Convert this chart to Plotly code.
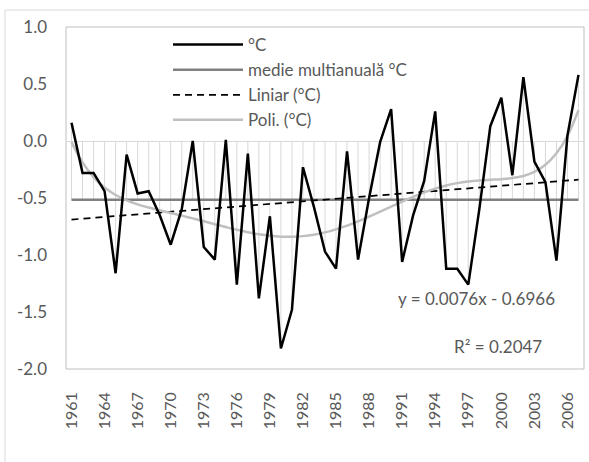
import numpy as np
import plotly.graph_objects as go

years = list(range(1961, 2008))
temp = [0.16, -0.28, -0.28, -0.44, -1.16, -0.12, -0.46, -0.44, -0.65, -0.91,
        -0.60, 0.00, -0.93, -1.04, 0.01, -1.26, -0.11, -1.38, -0.66, -1.82,
        -1.48, -0.23, -0.58, -0.97, -1.12, -0.09, -1.04, -0.50, -0.01, 0.28,
        -1.06, -0.65, -0.35, 0.26, -1.12, -1.12, -1.26, -0.60, 0.13, 0.38,
        -0.30, 0.56, -0.18, -0.36, -1.05, 0.05, 0.58]
lin_slope = 0.0076
lin_intercept = -0.6966
poly_order = 6
eq_text = "y = 0.0076x - 0.6966"
r2_text = "R² = 0.2047"
x_tick_years = list(range(1961, 2008, 3))
y_tick_vals = [1.0, 0.5, 0.0, -0.5, -1.0, -1.5, -2.0]
y_tick_text = ["1.0", "0.5", "0.0", "-0.5", "-1.0", "-1.5", "-2.0"]

FONT = "Lato"
TXT = "#595959"

t = np.array(temp)
n = np.arange(1, len(years) + 1)
mean_val = float(t.mean())
mean_series = [mean_val] * len(years)
lin_series = lin_slope * n + lin_intercept
coef = np.polyfit(n, t, poly_order)
poly_series = np.polyval(coef, n)

# drop lines from both series to the horizontal axis (at 0)
dx, dy = [], []
for yr, v in zip(years, temp):
    lo = min(0.0, v, mean_val)
    hi = max(0.0, v, mean_val)
    dx += [yr, yr, None]
    dy += [lo, hi, None]

fig = go.Figure()
fig.add_trace(go.Scatter(x=dx, y=dy, mode="lines", line=dict(color="#d9d9d9", width=1),
                         showlegend=False, hoverinfo="skip"))
fig.add_trace(go.Scatter(x=years, y=mean_series, mode="lines", name="medie multianuală °C",
                         line=dict(color="#808080", width=2.5), legendrank=2))
fig.add_trace(go.Scatter(x=years, y=lin_series, mode="lines", name="Liniar (°C)",
                         line=dict(color="#000000", width=1.75, dash="7px,5px"), legendrank=3))
fig.add_trace(go.Scatter(x=years, y=poly_series, mode="lines", name="Poli. (°C)",
                         line=dict(color="#bfbfbf", width=2.5, shape="spline"), legendrank=4))
fig.add_trace(go.Scatter(x=years, y=temp, mode="lines", name="°C",
                         line=dict(color="#000000", width=2.5), legendrank=1))

L, R, T, B = 66, 5, 27, 93
W, H = 589, 462
pw, ph = W - L - R, H - T - B

def px(xp):
    return (xp - L) / pw

def py(yp):
    return (H - B - yp) / ph

fig.update_layout(
    width=W, height=H,
    margin=dict(l=L, r=R, t=T, b=B, autoexpand=False),
    paper_bgcolor="white", plot_bgcolor="white",
    font=dict(family=FONT, size=17, color=TXT),
    showlegend=True,
    legend=dict(x=px(168), y=py(27), xanchor="left", yanchor="top",
                bgcolor="rgba(0,0,0,0)", font=dict(size=17, color=TXT),
                itemwidth=70, traceorder="normal"),
    xaxis=dict(range=[1960.5, 2007.5], tickmode="array", tickvals=x_tick_years,
               ticktext=[str(y) for y in x_tick_years], tickangle=-90,
               showgrid=False, zeroline=False, showline=False, ticks="",
               ticklabelstandoff=19, tickfont=dict(size=16, color=TXT)),
    yaxis=dict(range=[-2.0, 1.0], tickmode="array", tickvals=y_tick_vals,
               ticktext=y_tick_text, showgrid=False, zeroline=True,
               zerolinecolor="#d9d9d9", zerolinewidth=1, showline=False, ticks="",
               ticklabelstandoff=18, tickfont=dict(size=17, color=TXT)),
    shapes=[
        dict(type="rect", xref="paper", yref="paper", x0=0, x1=1, y0=0, y1=1,
             line=dict(color="#bfbfbf", width=1), layer="below"),
        dict(type="line", xref="paper", yref="paper", x0=px(5), x1=px(589), y0=py(10), y1=py(10),
             line=dict(color="#d9d9d9", width=1)),
        dict(type="line", xref="paper", yref="paper", x0=px(5), x1=px(5), y0=py(10), y1=py(462),
             line=dict(color="#d9d9d9", width=1)),
    ],
    annotations=[
        dict(text=eq_text, xref="paper", yref="paper", x=px(476), y=py(298),
             showarrow=False, font=dict(size=17, color=TXT), xanchor="center", yanchor="middle"),
        dict(text=r2_text, xref="paper", yref="paper", x=px(498), y=py(346),
             showarrow=False, font=dict(size=17, color=TXT), xanchor="center", yanchor="middle"),
    ],
)

fig.write_html("out.html")
